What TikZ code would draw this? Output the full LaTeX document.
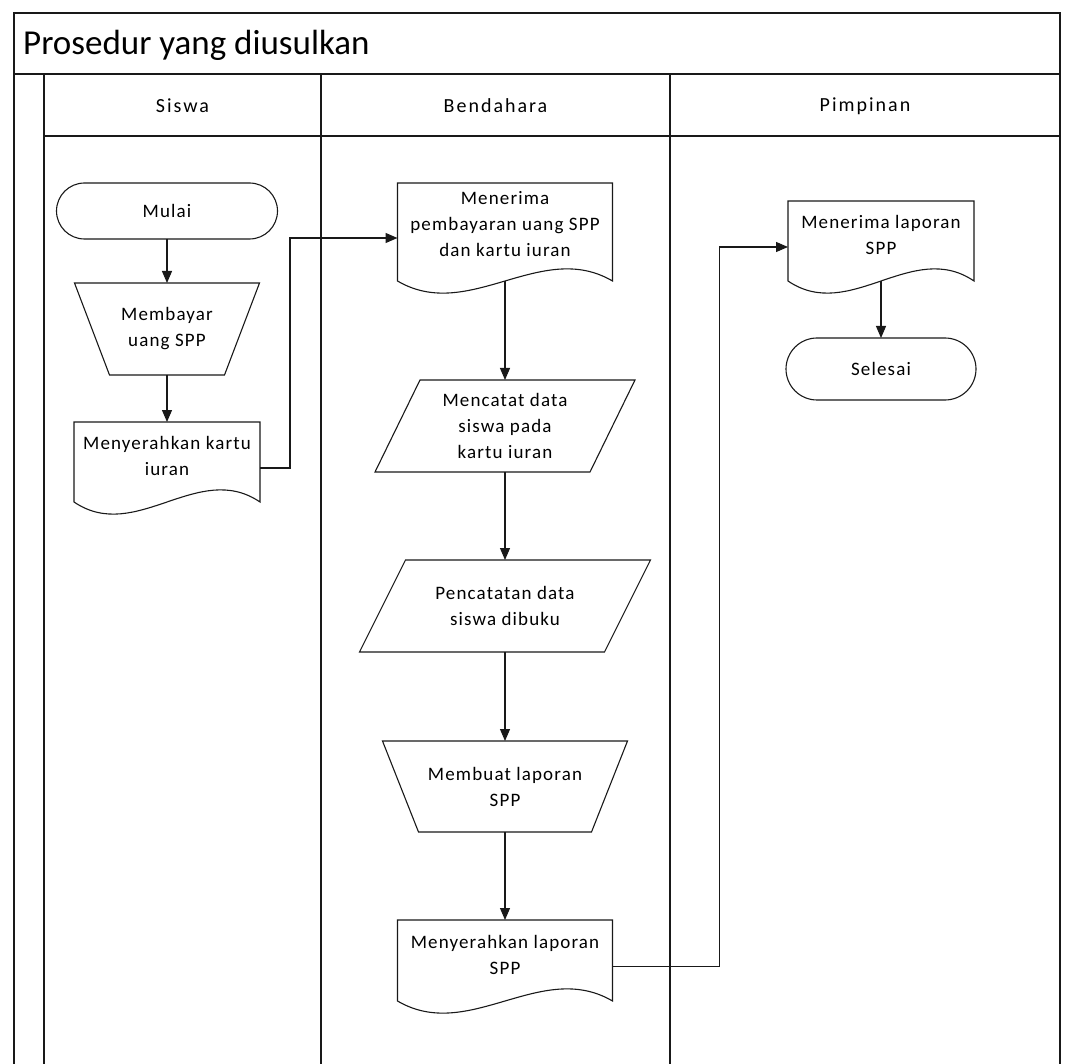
\documentclass[tikz,border=0pt]{standalone}
\usepackage{fontspec}
\setmainfont{Carlito}
\newfontfamily\spacedfont{Carlito}[LetterSpace=6]
\newfontfamily\headfont{Carlito}[LetterSpace=10]
\usetikzlibrary{arrows.meta,calc}

\tikzset{
  frame/.style={line width=1.4pt, draw=black!90},
  outline/.style={line width=1.1pt, draw=black!90},
  flow/.style={line width=1.1pt, draw=black!90, -{Triangle[length=12pt,width=10pt]}},
  label text/.style={font=\spacedfont\fontsize{19}{26}\selectfont, align=center, inner sep=0pt, outer sep=0pt},
  head text/.style={font=\headfont\fontsize{20}{24}\selectfont, inner sep=0pt},
  box/.style={label text, rectangle, draw=none},
  terminal/.style={label text, rectangle, outline},
}

% document symbol: straight top and sides, wavy bottom
\newcommand\docoutline[1]{%
  \draw[outline] ($(#1.south west)+(0,-12)$) -- (#1.north west) -- (#1.north east)
    -- ($(#1.south east)+(0,-12)$)
    .. controls ($(#1.south east)!0.333!(#1.south west)+(0,-54)$)
            and ($(#1.south east)!0.667!(#1.south west)+(0,30)$) .. cycle;}

\begin{document}
\begin{tikzpicture}[x=1pt,y=-1pt]
\useasboundingbox (0,0) rectangle (1068,1064);

% pool and lanes
\draw[frame] (14,1064) -- (14,13) -- (1060,13) -- (1060,1064);
\draw[frame] (14,74) -- (1060,74);
\draw[frame] (44,136) -- (1060,136);
\draw[frame] (44,74) -- (44,1064);
\draw[frame] (321,74) -- (321,1064);
\draw[frame] (670,74) -- (670,1064);

\node[anchor=base west, inner sep=0pt, font=\fontsize{35}{40}\selectfont] (title) at (23,55) {Prosedur yang diusulkan};
\node[head text] (hsiswa) at (182.5,106) {Siswa};
\node[head text] (hbendahara) at (495.5,106) {Bendahara};
\node[head text] (hpimpinan) at (865,106) {Pimpinan};

% Siswa lane
\node[terminal, minimum width=221pt, minimum height=56pt, rounded corners=28pt] (mulai) at (167,211) {Mulai};

\node[box, minimum width=185pt, minimum height=92pt] (bayar) at (167,329) {Membayar\\uang SPP};
\draw[outline] (bayar.north west) -- (bayar.north east)
  -- ($(bayar.south east)+(-35,0)$) -- ($(bayar.south west)+(35,0)$) -- cycle;

\node[box, minimum width=186pt, minimum height=92pt] (kartu) at (167,468) {};
\node[label text] (kartutext) at ([yshift=12pt]kartu.center) {Menyerahkan kartu\\iuran};
\docoutline{kartu}

% Bendahara lane
\node[box, minimum width=215pt, minimum height=110pt] (terima) at (505,238) {};
\node[label text] (terimatext) at ([yshift=14pt]terima.center) {Menerima\\pembayaran uang SPP\\dan kartu iuran};
\docoutline{terima}

\node[box, minimum width=260pt, minimum height=92pt] (catat) at (505,426) {Mencatat data\\siswa pada\\kartu iuran};
\draw[outline] ($(catat.north west)+(45,0)$) -- (catat.north east)
  -- ($(catat.south east)+(-45,0)$) -- (catat.south west) -- cycle;

\node[box, minimum width=291pt, minimum height=92pt] (buku) at (505,606) {Pencatatan data\\siswa dibuku};
\draw[outline] ($(buku.north west)+(46,0)$) -- (buku.north east)
  -- ($(buku.south east)+(-46,0)$) -- (buku.south west) -- cycle;

\node[box, minimum width=245pt, minimum height=91pt] (buat) at (505,786.5) {Membuat laporan\\SPP};
\draw[outline] (buat.north west) -- (buat.north east)
  -- ($(buat.south east)+(-36,0)$) -- ($(buat.south west)+(36,0)$) -- cycle;

\node[box, minimum width=215pt, minimum height=93pt] (lapor) at (505,966.5) {};
\node[label text] (laportext) at ([yshift=12pt]lapor.center) {Menyerahkan laporan\\SPP};
\docoutline{lapor}

% Pimpinan lane
\node[box, minimum width=186pt, minimum height=92pt] (terimalap) at (881,247) {};
\node[label text] (terimalaptext) at ([yshift=12pt]terimalap.center) {Menerima laporan\\SPP};
\docoutline{terimalap}

\node[terminal, minimum width=190pt, minimum height=62pt, rounded corners=31pt] (selesai) at (881,369) {Selesai};

% flow
\draw[flow] (mulai) -- (bayar);
\draw[flow] (bayar) -- (kartu);
\draw[flow] (kartu.east) -- ++(30,0) |- (terima.west);
\draw[flow] ([yshift=12pt]terima.south) -- (catat.north);
\draw[flow] (catat) -- (buku);
\draw[flow] (buku) -- (buat);
\draw[flow] (buat) -- (lapor);
\draw[flow] (lapor.east) -- ++(107,0) |- (terimalap.west);
\draw[flow] ([yshift=12pt]terimalap.south) -- (selesai);
\end{tikzpicture}
\end{document}
